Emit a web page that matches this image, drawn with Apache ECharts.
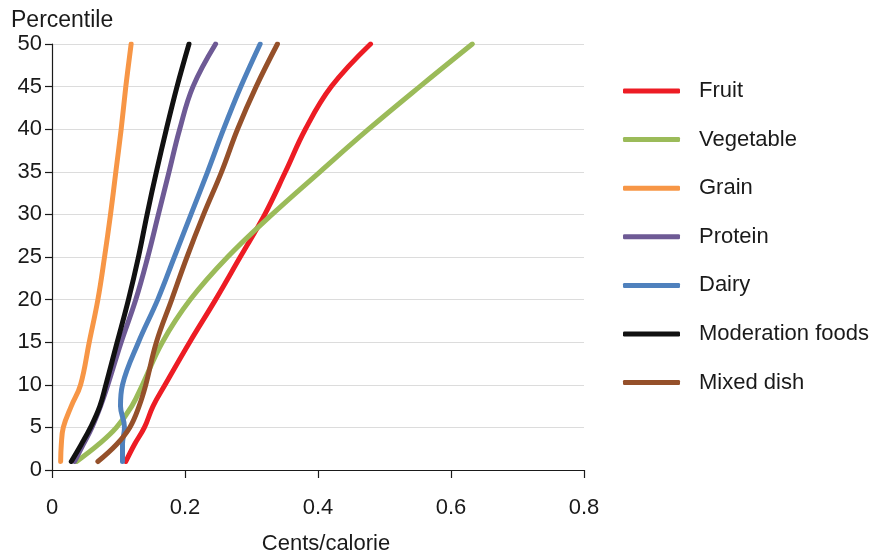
<!DOCTYPE html>
<html>
<head>
<meta charset="utf-8">
<script src="https://cdn.jsdelivr.net/npm/echarts@6/dist/echarts.min.js"></script>
<style>html,body{margin:0;padding:0;background:#fff}#chart{width:881px;height:554px}</style>
</head>
<body>
<div id="chart"></div>
<script>
// Percentile levels (y values)
var percentiles = [1, 3, 5, 7.5, 10, 15, 20, 25, 30, 35, 40, 45, 50];
// Cents/calorie at each percentile
var fruit      = [0.111, 0.124, 0.139, 0.152, 0.170, 0.207, 0.246, 0.283, 0.320, 0.351, 0.381, 0.420, 0.479];
var vegetable  = [0.037, 0.070, 0.097, 0.120, 0.136, 0.166, 0.208, 0.264, 0.331, 0.403, 0.476, 0.553, 0.632];
var grain      = [0.013, 0.014, 0.017, 0.029, 0.043, 0.056, 0.069, 0.079, 0.088, 0.096, 0.104, 0.111, 0.119];
var protein    = [0.034, 0.047, 0.060, 0.073, 0.084, 0.104, 0.126, 0.144, 0.160, 0.176, 0.192, 0.212, 0.246];
var dairy      = [0.106, 0.106, 0.109, 0.103, 0.106, 0.130, 0.159, 0.184, 0.209, 0.234, 0.258, 0.284, 0.313];
var moderation = [0.029, 0.044, 0.058, 0.072, 0.081, 0.098, 0.115, 0.130, 0.143, 0.157, 0.172, 0.188, 0.206];
var mixedDish  = [0.069, 0.097, 0.117, 0.131, 0.141, 0.157, 0.180, 0.203, 0.228, 0.255, 0.279, 0.307, 0.339];

var seriesNames = ['Fruit', 'Vegetable', 'Grain', 'Protein', 'Dairy', 'Moderation foods', 'Mixed dish'];
var seriesValues = [fruit, vegetable, grain, protein, dairy, moderation, mixedDish];
var seriesColors = ['#ED1C24', '#9BBB59', '#F79646', '#6E5A95', '#4F81BD', '#111111', '#95502A'];

var xTicks = [0, 0.2, 0.4, 0.6, 0.8];
var yTicks = [0, 5, 10, 15, 20, 25, 30, 35, 40, 45, 50];

var FONT = '"Liberation Sans", Arial, Helvetica, sans-serif';
var FS = 22;
var chart = echarts.init(document.getElementById('chart'));

var series = seriesNames.map(function (name, i) {
  return {
    name: name,
    type: 'line',
    smooth: 0.4,
    symbol: 'none',
    showSymbol: false,
    lineStyle: { width: 5, color: seriesColors[i], cap: 'round', join: 'round' },
    itemStyle: { color: seriesColors[i] },
    data: percentiles.map(function (p, k) { return [seriesValues[i][k], p]; })
  };
});

chart.setOption({
  animation: false,
  backgroundColor: '#fff',
  textStyle: { fontFamily: FONT },
  title: {
    text: 'Percentile', left: 6, top: 4,
    textStyle: { fontFamily: FONT, fontSize: 23, fontWeight: 'normal', color: '#1a1a1a' }
  },
  grid: { left: 52, right: 297, top: 44, bottom: 84, containLabel: false, outerBoundsMode: 'none' },
  legend: {
    orient: 'vertical', left: 618, top: 75,
    icon: 'roundRect', itemWidth: 57, itemHeight: 5, itemGap: 26.6,
    textStyle: { fontFamily: FONT, fontSize: FS, color: '#1a1a1a', padding: [0, 0, 0, 14] },
    data: seriesNames
  },
  xAxis: {
    type: 'value', min: 0, max: 0.8, interval: 0.2,
    name: 'Cents/calorie', nameLocation: 'middle', nameGap: 63,
    nameTextStyle: { fontFamily: FONT, fontSize: FS, color: '#1a1a1a', padding: [0, 0, 0, 16] },
    axisLine: { show: true, lineStyle: { color: '#1a1a1a', width: 1.2 } },
    axisTick: { show: true, length: 8, lineStyle: { color: '#1a1a1a', width: 1.2 } },
    axisLabel: { fontFamily: FONT, fontSize: FS, color: '#1a1a1a', margin: 27,
      formatter: function (v) { return xTicks.indexOf(v) >= 0 ? String(v) : ''; } },
    splitLine: { show: false }
  },
  yAxis: {
    type: 'value', min: 0, max: 50, interval: 5,
    axisLine: { show: true, lineStyle: { color: '#1a1a1a', width: 1.2 } },
    axisTick: { show: true, length: 7, lineStyle: { color: '#1a1a1a', width: 1.2 } },
    axisLabel: { fontFamily: FONT, fontSize: FS, color: '#1a1a1a', margin: 10,
      formatter: function (v) { return yTicks.indexOf(v) >= 0 ? String(v) : ''; } },
    splitLine: { show: true, lineStyle: { color: '#dcdcdc', width: 1.2 } }
  },
  series: series
});
</script>
</body>
</html>
